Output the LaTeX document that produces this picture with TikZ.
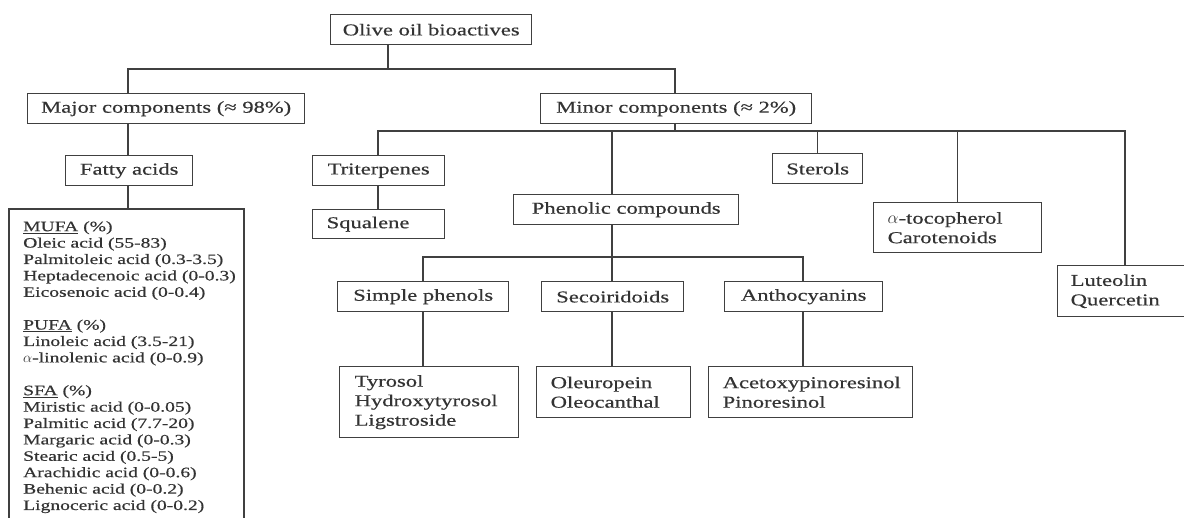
\documentclass[tikz,border=0pt]{standalone}
\usepackage{fontspec}
\setmainfont{Liberation Serif}[FakeStretch=1.36,FakeBold=0.5]
\newfontfamily\fafont{Liberation Serif}[FakeStretch=1.36,FakeBold=0.5]
\begin{document}
\begin{tikzpicture}[x=1pt,y=-1pt,
  box/.style={draw=black!75, line width=1.4pt, text=black!80, inner sep=0pt,
    anchor=north west, font=\fontsize{16.6}{19.5}\selectfont},
  lbox/.style={box, align=left, inner xsep=14pt},
  conn/.style={draw=black!75, line width=1.4pt}]
\useasboundingbox (0,0) rectangle (1184,517);
\fill[white] (0,0) rectangle (1184,517);

\node[box, minimum width=201, minimum height=30] (olive) at (330,14) {Olive oil bioactives};
\node[box, minimum width=277, minimum height=30] (major) at (27,93) {Major components (≈ 98\%)};
\node[box, minimum width=271, minimum height=30] (minor) at (540,93) {Minor components (≈ 2\%)};
\node[box, minimum width=127, minimum height=30] (fatty) at (65,155) {Fatty acids};
\node[box, minimum width=132, minimum height=30] (triter) at (312,155) {Triterpenes};
\node[lbox, text width=104, minimum height=29] (squal) at (312,209) {Squalene};
\node[box, minimum width=225, minimum height=30] (phen) at (513,194) {Phenolic compounds};
\node[box, minimum width=90, minimum height=30] (sterols) at (772,153) {Sterols};
\node[lbox, text width=140, minimum height=50] (toco) at (873,202) {$\alpha$-tocopherol\\Carotenoids};
\node[lbox, inner xsep=13pt, text width=140, minimum height=51] (lut) at (1057,265) {Luteolin\\Quercetin};
\node[box, minimum width=171, minimum height=30] (simple) at (337,281) {Simple phenols};
\node[box, minimum width=142, minimum height=30] (seco) at (541,281) {Secoiridoids};
\node[box, minimum width=158, minimum height=30] (antho) at (724,281) {Anthocyanins};
\node[lbox, inner xsep=15pt, text width=149, minimum height=71] (tyro) at (339,366) {Tyrosol\\Hydroxytyrosol\\Ligstroside};
\node[lbox, text width=126, minimum height=51] (oleu) at (536,366) {Oleuropein\\Oleocanthal};
\node[lbox, text width=176, minimum height=51] (aceto) at (708,366) {Acetoxypinoresinol\\Pinoresinol};

\coordinate (faTL) at (9,209);
\coordinate (faTR) at (244,209);
\coordinate (faBL) at (9,522);
\coordinate (faBR) at (244,522);
\draw[conn] (faBL) -- (faTL) -- (faTR) -- (faBR);
\node[anchor=north west, inner sep=0pt, align=left, text=black!80,
  font=\fafont\fontsize{14.4}{16.4}\selectfont] (fatext) at (23,221)
  {\underline{MUFA} (\%)\\Oleic acid (55-83)\\Palmitoleic acid (0.3-3.5)\\Heptadecenoic acid (0-0.3)\\Eicosenoic acid (0-0.4)\\[16.4pt]
   \underline{PUFA} (\%)\\Linoleic acid (3.5-21)\\$\alpha$-linolenic acid (0-0.9)\\[16.4pt]
   \underline{SFA} (\%)\\Miristic acid (0-0.05)\\Palmitic acid (7.7-20)\\Margaric acid (0-0.3)\\Stearic acid (0.5-5)\\Arachidic acid (0-0.6)\\Behenic acid (0-0.2)\\Lignoceric acid (0-0.2)};

\coordinate (j0) at (388,69);
\coordinate (jmaj) at (128,69);
\coordinate (jmin) at (675,69);
\draw[conn] (olive.south -| j0) -- (j0);
\draw[conn] (major.north -| jmaj) -- (jmaj) -- (jmin) -- (minor.north -| jmin);
\draw[conn] (major.south -| jmaj) -- (fatty.north -| jmaj);
\draw[conn] (fatty.south -| jmaj) -- (faTL -| jmaj);

\coordinate (k) at (675,131);
\coordinate (kl) at (378,131);
\coordinate (kp) at (612,131);
\coordinate (kr) at (1125,131);
\draw[conn] (minor.south -| k) -- (k);
\draw[conn] (triter.north -| kl) -- (kl) -- (kr) -- (lut.north -| kr);
\draw[conn] (kp) -- (phen.north -| kp);
\draw[conn] (sterols.north) -- (sterols.north |- k);
\draw[conn] (toco.north) -- (toco.north |- k);
\draw[conn] (triter.south -| kl) -- (squal.north -| kl);

\coordinate (p) at (612,257);
\coordinate (pl) at (423,257);
\coordinate (pr) at (803,257);
\draw[conn] (phen.south -| p) -- (p);
\draw[conn] (simple.north -| pl) -- (pl) -- (pr) -- (antho.north -| pr);
\draw[conn] (p) -- (seco.north -| p);
\draw[conn] (simple.south -| pl) -- (tyro.north -| pl);
\draw[conn] (seco.south -| p) -- (oleu.north -| p);
\draw[conn] (antho.south -| pr) -- (aceto.north -| pr);
\end{tikzpicture}
\end{document}
